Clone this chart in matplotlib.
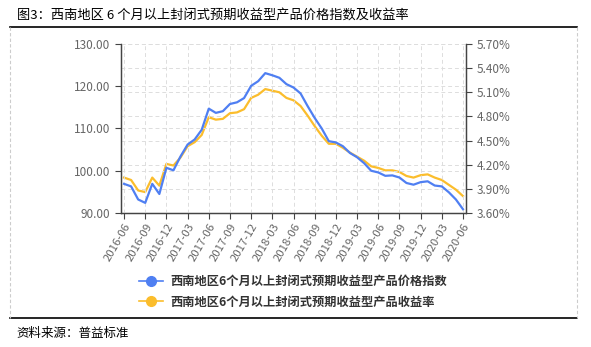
import matplotlib.pyplot as plt
from matplotlib.lines import Line2D

plt.rcParams['font.family'] = ['Noto Sans CJK SC', 'DejaVu Sans']

# monthly data 2016-06 .. 2020-06
months = ['2016-06', '2016-07', '2016-08', '2016-09', '2016-10', '2016-11', '2016-12',
          '2017-01', '2017-02', '2017-03', '2017-04', '2017-05', '2017-06', '2017-07',
          '2017-08', '2017-09', '2017-10', '2017-11', '2017-12', '2018-01', '2018-02',
          '2018-03', '2018-04', '2018-05', '2018-06', '2018-07', '2018-08', '2018-09',
          '2018-10', '2018-11', '2018-12', '2019-01', '2019-02', '2019-03', '2019-04',
          '2019-05', '2019-06', '2019-07', '2019-08', '2019-09', '2019-10', '2019-11',
          '2019-12', '2020-01', '2020-02', '2020-03', '2020-04', '2020-05', '2020-06']

price_index = [96.9, 96.3, 93.2, 92.4, 96.9, 94.5, 100.7, 100.1, 103.4, 106.2,
               107.4, 109.7, 114.7, 113.7, 114.1, 115.8, 116.2, 117.2, 120.1, 121.2,
               123.1, 122.6, 122.0, 120.5, 119.7, 118.3, 115.3, 112.5, 110.0, 107.0,
               106.7, 105.8, 104.2, 103.2, 101.8, 100.0, 99.6, 98.8, 98.9, 98.4,
               97.1, 96.7, 97.3, 97.5, 96.5, 96.3, 94.9, 93.2, 90.9]

yield_rate = [4.04, 4.01, 3.88, 3.86, 4.04, 3.94, 4.21, 4.19, 4.29, 4.43,
              4.48, 4.57, 4.79, 4.76, 4.77, 4.84, 4.85, 4.89, 5.03, 5.07,
              5.14, 5.12, 5.10, 5.03, 5.00, 4.93, 4.81, 4.68, 4.56, 4.46,
              4.46, 4.41, 4.35, 4.30, 4.25, 4.18, 4.16, 4.13, 4.13, 4.11,
              4.06, 4.04, 4.07, 4.08, 4.04, 4.01, 3.95, 3.89, 3.81]

left_ticks = [90, 100, 110, 120, 130]
right_ticks = [3.6, 3.9, 4.2, 4.5, 4.8, 5.1, 5.4, 5.7]

label_index = '西南地区6个月以上封闭式预期收益型产品价格指数'
label_yield = '西南地区6个月以上封闭式预期收益型产品收益率'

blue = '#4f7ff2'
orange = '#fbbd2c'
grey = '#666666'

fig = plt.figure(figsize=(5.91, 3.47), dpi=100)
ax = fig.add_axes([121 / 591, 1 - 213 / 347, 345 / 591, 169 / 347])
ax2 = ax.twinx()

x = list(range(len(months)))
ax.plot(x, price_index, color=blue, lw=1.6, zorder=3)
ax2.plot(x, yield_rate, color=orange, lw=1.6, zorder=3)

ax.set_xlim(-0.43, len(months) - 1 + 0.43)
ax.set_ylim(90, 130)
ax2.set_ylim(3.6, 5.7)
ax.set_yticks(left_ticks)
ax.set_yticklabels([f'{v:.2f}' for v in left_ticks])
ax2.set_yticks(right_ticks)
ax2.set_yticklabels([f'{v:.2f}%' for v in right_ticks])

xt = x[::3]
ax.set_xticks(xt)
ax.set_xticklabels(months[::3], rotation=60, ha='right', rotation_mode='anchor')

for a in (ax, ax2):
    for s in a.spines.values():
        s.set_color('#444444')
        s.set_linewidth(0.9)
    a.spines['top'].set_visible(False)
    a.tick_params(colors='#444444', labelcolor=grey, labelsize=8.5, length=4, width=0.8)
ax.tick_params(axis='x', labelsize=8.2, pad=2)

# grid from both y axes
ax.grid(True, axis='both', ls=(0, (4, 3)), color='#dddddd', lw=0.7)
ax2.grid(True, axis='y', ls=(0, (4, 3)), color='#dddddd', lw=0.7)
ax.set_axisbelow(True)
ax2.set_axisbelow(True)
ax.set_zorder(ax2.get_zorder() + 1)
ax.patch.set_visible(False)

handles = [Line2D([], [], color=blue, lw=1.2, marker='o', ms=7),
           Line2D([], [], color=orange, lw=1.2, marker='o', ms=7)]
fig.legend(handles, [label_index, label_yield], loc='center left',
           bbox_to_anchor=(128 / 591, 1 - 292 / 347), frameon=False,
           prop={'size': 8.8, 'weight': 'bold'}, labelcolor='#333333',
           handlelength=2.0, handletextpad=0.6, labelspacing=0.6)

# frame and captions
fig.text(17 / 591, 1 - 15 / 347, '图3：西南地区 6 个月以上封闭式预期收益型产品价格指数及收益率',
         fontsize=9.5, va='center', ha='left', color='black')
fig.text(16 / 591, 1 - 333 / 347, '资料来源：普益标准', fontsize=9, va='center', ha='left', color='black')
fig.add_artist(Line2D([10 / 591, 577 / 591], [1 - 27 / 347, 1 - 27 / 347], color='black', lw=1.2))
fig.add_artist(Line2D([10 / 591, 577 / 591], [1 - 318 / 347, 1 - 318 / 347], color='black', lw=1.2))
for xx in (10 / 591, 577 / 591):
    fig.add_artist(Line2D([xx, xx], [1 - 27 / 347, 1 - 318 / 347], color='#cccccc', lw=0.8, ls=(0, (3, 2))))

fig.savefig('out.png', dpi=100)
